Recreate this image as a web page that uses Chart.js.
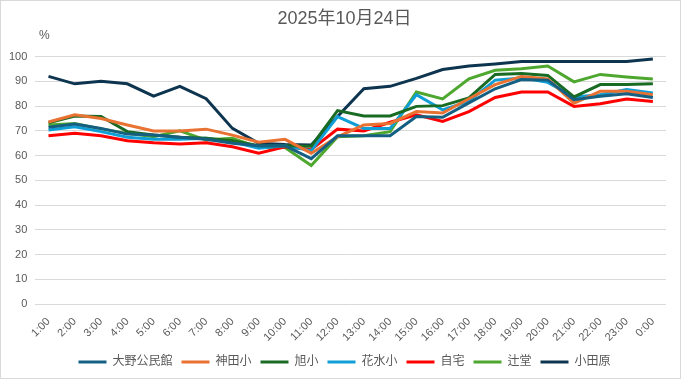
<!DOCTYPE html>
<html>
<head>
<meta charset="utf-8">
<script src="https://cdn.jsdelivr.net/npm/chart.js@4.4.1/dist/chart.umd.min.js"></script>
<style>
html,body{margin:0;padding:0;background:#fff;}
#wrap{width:681px;height:379px;box-sizing:border-box;border:1px solid #d9d9d9;position:relative;}
</style>
</head>
<body>
<div id="wrap"><canvas id="c"></canvas></div>
<script>
const title = "2025年10月24日";
const unitLabel = "%";
const hours = ["1:00","2:00","3:00","4:00","5:00","6:00","7:00","8:00","9:00","10:00","11:00","12:00","13:00","14:00","15:00","16:00","17:00","18:00","19:00","20:00","21:00","22:00","23:00","0:00"];
const seriesNames = ["大野公民館","神田小","旭小","花水小","自宅","辻堂","小田原"];
const ohno    = [71.5,72.8,71,68.7,68.3,67.4,66.6,65,64,64,58.8,68,68,68,75.8,75.5,81.3,87,90.7,90.5,82.6,84,85,83.5];
const kanda   = [73.6,76.5,75,72.4,70,70,70.7,68.3,65.4,66.6,61,67.6,72.4,73,77.8,77.2,83,88.7,92,91,81.2,86,86,84.6];
const asahi   = [73.3,76,75.8,69.7,68.3,67.4,67,66,64,64,63.8,78.2,76,76,79.9,80.2,83.3,92.8,93.2,92.4,83.7,88.7,88.7,89];
const hanamizu= [70.4,71.7,69.7,67.4,66.6,66.6,67,65.6,63,64,62,75.8,71,71,84.6,78.5,82,90.5,91.4,89.6,83.7,84.6,86.7,85.3];
const jitaku  = [68,69,68,66,65.2,64.7,65.2,63.6,61,63.6,62.5,70.7,70,73.5,76.5,73.8,77.8,83.5,85.7,85.7,79.9,81,82.9,81.9];
const tsujido = [72.4,73,70.8,69,67.6,70,66.3,67,63.3,63.3,56,67.6,68,69.7,85.7,82.9,91,94.5,95.1,96.2,89.8,92.8,91.8,91];
const odawara = [92,89,90,89,84,88,83,71,65,64.5,64.3,75.8,87,88,91.2,94.8,96.2,97,98,98,98,98,98,99];
const seriesData = [ohno,kanda,asahi,hanamizu,jitaku,tsujido,odawara];
const colors = ["#156082","#E97132","#196B24","#0F9ED5","#FF0000","#4EA72E","#0E3550"];

const FONT = '"Liberation Sans", "Noto Sans CJK JP", sans-serif';
const TXT = "#595959";
const SHIFT = 8;

const unitPlugin = {
  id: 'unitLabel',
  afterDraw(chart){
    const ctx = chart.ctx, ca = chart.chartArea;
    ctx.save();
    ctx.font = '12px ' + FONT;
    ctx.fillStyle = TXT;
    ctx.textAlign = 'center';
    ctx.textBaseline = 'middle';
    ctx.fillText(unitLabel, ca.left + 9, ca.top - 21);
    ctx.restore();
  }
};

new Chart(document.getElementById('c'), {
  type: 'line',
  data: {
    labels: hours,
    datasets: seriesNames.map((n,i)=>({
      label: n,
      data: seriesData[i],
      borderColor: colors[i],
      backgroundColor: colors[i],
      borderWidth: 3,
      pointRadius: 0,
      pointHoverRadius: 0,
      tension: 0,
      fill: false,
      yAxisID: 'y'
    }))
  },
  options: {
    responsive: true,
    maintainAspectRatio: false,
    animation: false,
    layout: { padding: { left: SHIFT, right: 0, top: 0, bottom: 0 } },
    plugins: {
      title: {
        display: true, text: title, color: TXT,
        font: { family: FONT, size: 18, weight: 'normal' },
        padding: { top: 7, bottom: 27 }
      },
      legend: {
        position: 'bottom',
        labels: {
          color: TXT,
          font: { family: FONT, size: 12 },
          usePointStyle: true,
          pointStyle: 'line',
          pointStyleWidth: 28,
          boxHeight: 4,
          padding: 9
        }
      },
      tooltip: { enabled: false }
    },
    scales: {
      x: {
        offset: true,
        grid: { display: false },
        border: { display: false },
        ticks: {
          color: TXT, font: { family: FONT, size: 11 },
          maxRotation: 45, minRotation: 45, autoSkip: false, padding: 3
        }
      },
      y: {
        min: 0, max: 100,
        grid: { color: "#d9d9d9", drawTicks: false },
        border: { display: false },
        ticks: { stepSize: 10, color: TXT, font: { family: FONT, size: 11 }, padding: 8 },
        afterFit(scale){ scale.width = Math.max(0, scale.width - SHIFT); }
      },
      yr: {
        position: 'right',
        min: 0, max: 100,
        grid: { display: false, drawTicks: false },
        border: { display: false },
        ticks: { display: false },
        afterFit(scale){ scale.width = 14; }
      }
    }
  },
  plugins: [unitPlugin]
});
</script>
</body>
</html>
